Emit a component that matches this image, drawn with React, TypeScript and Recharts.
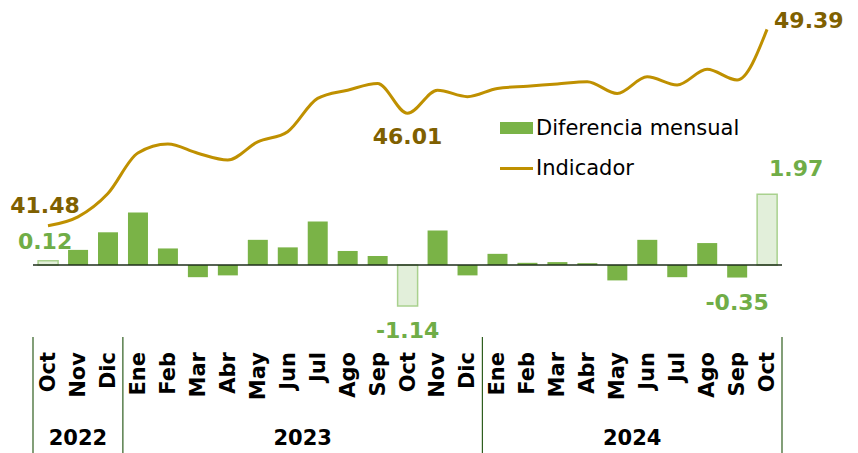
import { ComposedChart, Bar, Line, XAxis, YAxis, Cell, LabelList, ReferenceLine } from 'recharts';

const months = ['Oct', 'Nov', 'Dic', 'Ene', 'Feb', 'Mar', 'Abr', 'May', 'Jun', 'Jul', 'Ago', 'Sep', 'Oct', 'Nov', 'Dic', 'Ene', 'Feb', 'Mar', 'Abr', 'May', 'Jun', 'Jul', 'Ago', 'Sep', 'Oct'];
const diferencia = [0.12, 0.42, 0.91, 1.46, 0.46, -0.34, -0.29, 0.7, 0.49, 1.21, 0.39, 0.25, -1.14, 0.96, -0.29, 0.31, 0.06, 0.08, 0.05, -0.43, 0.7, -0.34, 0.61, -0.35, 1.97];
const indicador = [41.48, 41.84, 42.78, 44.41, 44.77, 44.4, 44.13, 44.86, 45.27, 46.61, 46.94, 47.21, 46.01, 46.94, 46.68, 47.01, 47.1, 47.19, 47.28, 46.81, 47.48, 47.15, 47.78, 47.35, 49.39];
const years = ['2022', '2023', '2024'];
const yearCounts = [3, 12, 10];
const highlighted = [0, 12, 24];
const lineLabeled = [0, 12, 24];
const barLabeled = [0, 12, 23, 24];

const data = months.map((m, i) => ({ key: `${m}-${i}`, mes: m, dif: diferencia[i], ind: indicador[i] }));

const W = 858;
const H = 453;
const M = { top: 10, right: 76, left: 33, bottom: 0 };
const AXIS_H = 118;
const STEP = (W - M.left - M.right) / months.length;
const FONT = '"DejaVu Sans", sans-serif';
const GOLD = '#BF9000';
const GOLD_DARK = '#7F6000';
const GREEN = '#7AB347';
const GREEN_TXT = '#70AD47';

const yearStarts = yearCounts.map((_, g) => yearCounts.slice(0, g).reduce((a, b) => a + b, 0));

function MonthTick(props: any) {
  const { x, y, payload } = props;
  const i = payload.index;
  const top = y + 9;
  const g = yearStarts.indexOf(i);
  const sepColor = '#2F5E1F';
  return (
    <g>
      <text x={x} y={top} transform={`rotate(-90, ${x}, ${top})`} textAnchor="end" dominantBaseline="central"
        fontFamily={FONT} fontWeight="bold" fontSize={21} fill="#000">{months[i]}</text>
      {g >= 0 && (
        <>
          <line x1={x - STEP / 2} x2={x - STEP / 2} y1={y - 6} y2={H} stroke={sepColor} strokeWidth={1.2} />
          <text x={x - STEP / 2 + (yearCounts[g] * STEP) / 2} y={y + 95} textAnchor="middle" dominantBaseline="central"
            fontFamily={FONT} fontWeight="bold" fontSize={21} fill="#000">{years[g]}</text>
        </>
      )}
      {i === months.length - 1 && (
        <line x1={x + STEP / 2} x2={x + STEP / 2} y1={y - 6} y2={H} stroke={sepColor} strokeWidth={1.2} />
      )}
    </g>
  );
}

function LineLabel(props: any) {
  const { x, y, value, index } = props;
  if (!lineLabeled.includes(index)) return null;
  let dx = 0, dy = -20, anchor: any = 'middle';
  if (index === 12) dy = 23;
  if (index === lineLabeled[2]) { dx = 7; dy = -9; anchor = 'start'; }
  if (index === 0) dx = -3;
  return (
    <text x={x + dx} y={y + dy} textAnchor={anchor} dominantBaseline="central" fontFamily={FONT}
      fontWeight="bold" fontSize={22} fill={GOLD_DARK}>{Number(value).toFixed(2)}</text>
  );
}

function BarLabel(props: any) {
  const { x, y, width, height, value, index } = props;
  if (!barLabeled.includes(index)) return null;
  const top = Math.min(y, y + height);
  const bottom = Math.max(y, y + height);
  const cx = x + width / 2;
  let lx = cx, ly = value >= 0 ? top - 19 : bottom + 25;
  if (index === 24) { lx = cx + 29; ly = top - 26; }
  if (index === 0) lx = cx - 3;
  return (
    <text x={lx} y={ly} textAnchor="middle" dominantBaseline="central" fontFamily={FONT}
      fontWeight="bold" fontSize={22} fill={GREEN_TXT}>{Number(value).toFixed(2)}</text>
  );
}

function LegendBox() {
  return (
    <div style={{ position: 'absolute', left: 500, top: 108, fontFamily: FONT, fontSize: 21, color: '#000', lineHeight: '40px' }}>
      <div style={{ display: 'flex', alignItems: 'center' }}>
        <span style={{ display: 'inline-block', width: 33, height: 12, background: GREEN, marginRight: 3 }} />
        Diferencia mensual
      </div>
      <div style={{ display: 'flex', alignItems: 'center' }}>
        <span style={{ display: 'inline-block', width: 33, height: 3, background: GOLD, marginRight: 3 }} />
        Indicador
      </div>
    </div>
  );
}

export default function App() {
  return (
    <div style={{ position: 'absolute', left: 0, top: 0, width: W, height: H, background: '#fff' }}>
      <ComposedChart width={W} height={H} data={data} margin={M} barCategoryGap="17%">
        <XAxis dataKey="key" height={AXIS_H} axisLine={false} tickLine={false} interval={0} tick={<MonthTick />} />
        <YAxis yAxisId="bar" hide domain={[-1.95, 7.1]} />
        <YAxis yAxisId="line" hide domain={[37.08, 50.17]} />
        <ReferenceLine yAxisId="bar" y={0} stroke="#1E2E1A" strokeWidth={1.5} />
        <Bar yAxisId="bar" dataKey="dif" name="Diferencia mensual" fill={GREEN} isAnimationActive={false}>
          {data.map((d, i) => (
            <Cell key={d.key} fill={highlighted.includes(i) ? '#E2EFDA' : GREEN}
              stroke={highlighted.includes(i) ? '#A9D18E' : 'none'} strokeWidth={1.5} />
          ))}
          <LabelList dataKey="dif" content={<BarLabel />} />
        </Bar>
        <Line yAxisId="line" type="monotone" dataKey="ind" name="Indicador" stroke={GOLD} strokeWidth={3}
          dot={false} activeDot={false} isAnimationActive={false}>
          <LabelList dataKey="ind" content={<LineLabel />} />
        </Line>
      </ComposedChart>
      <LegendBox />
    </div>
  );
}
